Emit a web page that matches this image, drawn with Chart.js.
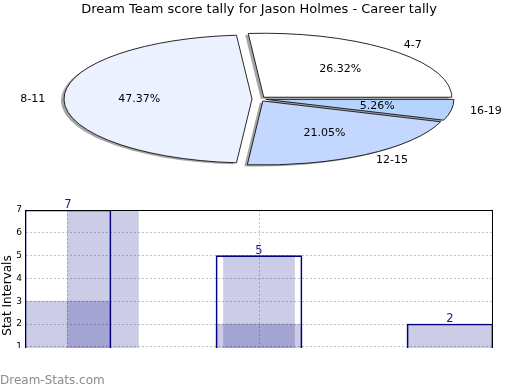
<!DOCTYPE html>
<html>
<head>
<meta charset="utf-8">
<script src="https://cdn.jsdelivr.net/npm/chart.js"></script>
<style>
  body { margin: 0; background: #fff; }
  #wrap { position: relative; width: 520px; height: 390px; overflow: hidden; background: #fff; }
  #pieChart { position: absolute; left: 0; top: 0; }
  #barChart { position: absolute; left: 0; top: 190px; }
  #mark { position: absolute; left: 0; top: 373px; font: 12px/14px "DejaVu Sans"; color: #8c8c8c; }
</style>
</head>
<body>
<div id="wrap">
  <canvas id="pieChart" width="520" height="195"></canvas>
  <canvas id="barChart" width="520" height="200"></canvas>
  <div id="mark">Dream-Stats.com</div>
</div>
<script>
const pieTitle = 'Dream Team score tally for Jason Holmes - Career tally';
const pieLabels = ['4-7', '8-11', '12-15', '16-19'];
const pieCounts = [5, 9, 4, 1];
const pieColors = ['#ffffff', '#ebf1ff', '#c4d7ff', '#b4d4ff'];

const totalX = [1, 2, 3];
const totalValues = [7, 5, 2];
const seriesBX = [1, 2, 3];
const seriesBValues = [3, 2, 2];
const seriesAX = [1.183, 2];
const seriesAValues = [7, 5];
const yTicks = [1, 2, 3, 4, 5, 6, 7];
const xGridTicks = [1, 2];

const FONT = 'DejaVu Sans';

// pie is drawn as a circle and stretched sideways into an ellipse
const sx = 188 / 64;
const explode = 7 / sx;

function squash(ctx, arc) {
    ctx.translate(arc.x, arc.y);
    ctx.scale(sx, 1);
    ctx.translate(-arc.x, -arc.y);
}

function wedgePath(ctx, arc) {
    const mid = (arc.startAngle + arc.endAngle) / 2;
    const cx = arc.x + Math.cos(mid) * explode;
    const cy = arc.y + Math.sin(mid) * explode;
    ctx.beginPath();
    ctx.moveTo(cx, cy);
    ctx.arc(cx, cy, arc.outerRadius, arc.startAngle, arc.endAngle);
    ctx.closePath();
}

const ellipsePie = {
    id: 'ellipsePie',
    beforeDatasetsDraw(chart) {
        const ctx = chart.ctx;
        const arcs = chart.getDatasetMeta(0).data;

        // shadows first, below every wedge
        ctx.save();
        ctx.fillStyle = 'rgba(77, 77, 77, 0.5)';
        arcs.forEach(arc => {
            ctx.save();
            ctx.translate(-3, 1.5);
            squash(ctx, arc);
            wedgePath(ctx, arc);
            ctx.fill();
            ctx.restore();
        });
        ctx.restore();

        arcs.forEach(arc => {
            const mid = (arc.startAngle + arc.endAngle) / 2;
            ctx.save();
            squash(ctx, arc);
            ctx.translate(Math.cos(mid) * explode, Math.sin(mid) * explode);
            arc.draw(ctx);
            ctx.restore();

            // outline built in squashed space, stroked in normal space
            ctx.save();
            squash(ctx, arc);
            wedgePath(ctx, arc);
            ctx.restore();
            ctx.save();
            ctx.lineWidth = 0.9;
            ctx.strokeStyle = '#111';
            ctx.stroke();
            ctx.restore();
        });
        return false;
    },
    afterDraw(chart) {
        const ctx = chart.ctx;
        const arcs = chart.getDatasetMeta(0).data;
        const values = chart.data.datasets[0].data;
        const total = values.reduce((a, b) => a + b, 0);
        ctx.save();
        ctx.fillStyle = '#000';
        ctx.font = '11px "' + FONT + '"';
        ctx.textBaseline = 'middle';
        arcs.forEach((arc, i) => {
            const mid = (arc.startAngle + arc.endAngle) / 2;
            const c = Math.cos(mid), s = Math.sin(mid);
            const r = arc.outerRadius;
            ctx.textAlign = c >= 0 ? 'left' : 'right';
            ctx.fillText(chart.data.labels[i],
                arc.x + sx * c * (explode + 1.1 * r),
                arc.y + s * (explode + 1.1 * r));
            ctx.textAlign = 'center';
            ctx.fillText((values[i] / total * 100).toFixed(2) + '%',
                arc.x + sx * c * (explode + 0.6 * r),
                arc.y + s * (explode + 0.6 * r));
        });
        ctx.restore();
    }
};

// pie runs counterclockwise from 3 o'clock, chart.js runs clockwise: reverse
new Chart(document.getElementById('pieChart'), {
    type: 'pie',
    data: {
        labels: pieLabels.slice().reverse(),
        datasets: [{
            data: pieCounts.slice().reverse(),
            backgroundColor: pieColors.slice().reverse(),
            borderWidth: 0
        }]
    },
    options: {
        responsive: false,
        animation: false,
        rotation: 90,
        radius: 64,
        layout: { padding: { left: 0, right: 2, top: 0, bottom: 14.6 } },
        plugins: {
            legend: { display: false },
            tooltip: { enabled: false },
            title: {
                display: true,
                text: pieTitle,
                color: '#000',
                font: { family: FONT, size: 13, weight: 'normal' },
                padding: { top: 2, bottom: 0 }
            }
        }
    },
    plugins: [ellipsePie]
});

const NAVY = '#000080';
const LIGHT = 'rgba(0, 0, 128, 0.2)';
const GRID = '#c4c4c4';

const barExtras = {
    id: 'barExtras',
    afterDatasetsDraw(chart) {
        const ctx = chart.ctx;
        const bars = chart.getDatasetMeta(0).data;
        ctx.save();
        ctx.fillStyle = '#1a1a80';
        ctx.font = '11.5px "' + FONT + '"';
        ctx.textAlign = 'center';
        ctx.textBaseline = 'bottom';
        bars.forEach((bar, i) => {
            ctx.fillText(String(totalValues[i]), bar.x, bar.y + 1);
        });
        ctx.restore();
    },
    afterDraw(chart) {
        const ctx = chart.ctx;
        const a = chart.chartArea;
        ctx.save();
        ctx.strokeStyle = '#000';
        ctx.lineWidth = 1;
        ctx.strokeRect(Math.round(a.left) + 0.5, Math.round(a.top) + 0.5,
            Math.round(a.right - a.left) - 1, Math.round(a.bottom - a.top));
        // the original picture is cut off just below the "1" line
        ctx.fillStyle = '#fff';
        ctx.fillRect(0, 158, chart.width, chart.height - 158);
        ctx.restore();
    }
};

new Chart(document.getElementById('barChart'), {
    type: 'bar',
    data: {
        datasets: [{
            data: totalX.map((x, i) => ({ x: x, y: totalValues[i] })),
            backgroundColor: 'rgba(0, 0, 0, 0)',
            borderColor: NAVY,
            borderWidth: 1,
            borderSkipped: 'bottom',
            barThickness: 86
        }, {
            data: seriesAX.map((x, i) => ({ x: x, y: seriesAValues[i] })),
            backgroundColor: LIGHT,
            borderWidth: 0,
            barThickness: 71
        }, {
            data: seriesBX.map((x, i) => ({ x: x, y: seriesBValues[i] })),
            backgroundColor: LIGHT,
            borderWidth: 0,
            barThickness: 86
        }]
    },
    options: {
        responsive: false,
        animation: false,
        grouped: false,
        layout: { padding: { left: 0, right: 27, top: 20, bottom: 9 } },
        plugins: {
            legend: { display: false },
            tooltip: { enabled: false }
        },
        scales: {
            x: {
                type: 'linear',
                min: 0.775,
                max: 3.225,
                offset: false,
                afterBuildTicks: s => { s.ticks = xGridTicks.map(v => ({ value: v })); },
                afterFit: s => { s.height = 0; },
                ticks: { display: false },
                grid: { color: GRID, drawTicks: false, offset: false },
                border: { display: false, dash: [2, 2] }
            },
            y: {
                min: -0.5,
                max: 7,
                afterBuildTicks: s => { s.ticks = yTicks.map(v => ({ value: v })); },
                afterFit: s => { s.width = 25; },
                ticks: {
                    color: '#000',
                    padding: 3,
                    font: { family: FONT, size: 9 }
                },
                grid: { color: GRID, drawTicks: false },
                border: { display: true, color: '#000', dash: [2, 2] },
                title: {
                    display: true,
                    text: 'Stat Intervals',
                    color: '#000',
                    font: { family: FONT, size: 12 },
                    padding: { top: 0.5, bottom: 0 }
                }
            }
        }
    },
    plugins: [barExtras]
});
</script>
</body>
</html>
